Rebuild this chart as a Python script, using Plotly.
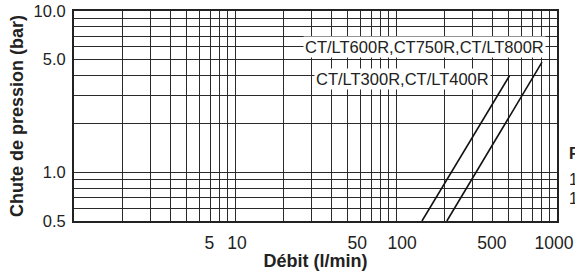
import math
import plotly.graph_objects as go

# ---- data ----
flow_300_400 = [145, 507]          # l/min
dp_300_400 = [0.5, 3.97]           # bar
flow_600_800 = [207, 807]          # l/min
dp_600_800 = [0.5, 4.82]           # bar

label_300_400 = "CT/LT300R,CT/LT400R"
label_600_800 = "CT/LT600R,CT750R,CT/LT800R"
label_300_400_pos = [109, 3.8]     # (flow, dp) of label centre
label_600_800_pos = [150, 5.95]

# tick labels (placed where the reference prints them)
x_tick_vals = [6.93, 10.3, 57.4, 109, 394, 958]
x_tick_text = ["5", "10", "50", "100", "500", "1000"]
y_tick_vals = [0.5, 1.0, 5.0, 10.0]
y_tick_text = ["0.5", "1.0", "5.0", "10.0"]

# log grid lines
x_grid = [m * 10 ** e for e in range(0, 3) for m in range(1, 10)] + [1000]
y_grid = [0.5, 0.6, 0.7, 0.8, 0.9, 1, 2, 3, 4, 5, 6, 7, 8, 9, 10]

side_lines = ["Fluide", "1 mm²/s", "1 kg/dm³"]
side_y = [0.32, 0.2, 0.107]

FONT = "Liberation Sans, Arial, Helvetica, sans-serif"
GRID = "#2a2a2a"

fig = go.Figure()
fig.add_trace(go.Scatter(x=flow_300_400, y=dp_300_400, mode="lines",
                         line=dict(color="#111", width=1.6), showlegend=False))
fig.add_trace(go.Scatter(x=flow_600_800, y=dp_600_800, mode="lines",
                         line=dict(color="#111", width=1.6), showlegend=False))

fig.add_annotation(x=math.log10(label_600_800_pos[0]), y=math.log10(label_600_800_pos[1]),
                   text=label_600_800, showarrow=False, bgcolor="white",
                   font=dict(size=16.5, color="#222", family=FONT), borderpad=1)
fig.add_annotation(x=math.log10(label_300_400_pos[0]), y=math.log10(label_300_400_pos[1]),
                   text=label_300_400, showarrow=False, bgcolor="white",
                   font=dict(size=16.5, color="#222", family=FONT), borderpad=1)

for i, (t, yy) in enumerate(zip(side_lines, side_y)):
    fig.add_annotation(xref="paper", yref="paper", x=1.021, y=yy,
                       xanchor="left", yanchor="middle",
                       text=("<b>%s</b>" % t) if i == 0 else t, showarrow=False,
                       font=dict(size=16, color="#222", family=FONT))

fig.update_xaxes(type="log", range=[0, 3], automargin=False,
                 tickmode="array", tickvals=x_tick_vals, ticktext=x_tick_text,
                 showgrid=False, ticks="", zeroline=False, ticklabelstandoff=5,
                 tickfont=dict(size=17.5, color="#222", family=FONT),
                 minor=dict(tickmode="array", tickvals=x_grid, showgrid=True,
                            gridcolor=GRID, gridwidth=1, ticks=""),
                 showline=True, linecolor="#222", linewidth=2, mirror=True,
                 title=dict(text="<b>Débit (l/min)</b>", standoff=3,
                            font=dict(size=18, color="#222", family=FONT)))
fig.update_yaxes(type="log", range=[math.log10(0.5), 1], automargin=False,
                 tickmode="array", tickvals=y_tick_vals, ticktext=y_tick_text,
                 showgrid=False, ticks="", zeroline=False, ticklabelstandoff=3,
                 tickfont=dict(size=16.5, color="#222", family=FONT),
                 minor=dict(tickmode="array", tickvals=y_grid, showgrid=True,
                            gridcolor=GRID, gridwidth=1, ticks=""),
                 showline=True, linecolor="#222", linewidth=2, mirror=True,
                 title=dict(text="<b>Chute de pression (bar)</b>", standoff=5,
                            font=dict(size=18, color="#222", family=FONT)))

fig.update_layout(width=575, height=271, autosize=False,
                  margin=dict(l=74, r=18, t=11, b=50, autoexpand=False),
                  paper_bgcolor="white", plot_bgcolor="white")

fig.write_html("out.html", config={"displayModeBar": False},
               post_script="document.body.style.margin='0';document.body.style.overflow='hidden';")
